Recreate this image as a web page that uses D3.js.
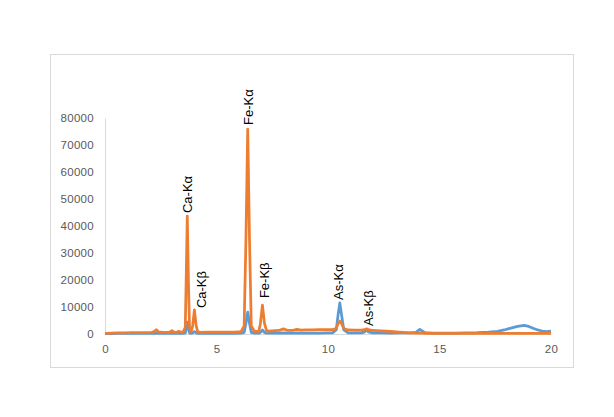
<!DOCTYPE html>
<html>
<head>
<meta charset="utf-8">
<script src="https://cdn.jsdelivr.net/npm/d3@7"></script>
<style>
  body { margin: 0; background: #fff; }
  svg { display: block; }
</style>
</head>
<body>
<div id="chart"></div>
<script>
// energy axis (keV)
var energy = [0, 0.3, 0.6, 0.9, 1.2, 1.5, 1.8, 2.1, 2.2, 2.3, 2.4, 2.6, 2.9, 3.0, 3.1, 3.2, 3.3, 3.4, 3.5, 3.6,
  3.64, 3.69, 3.74, 3.79, 3.86, 3.93, 4.01, 4.09, 4.16, 4.3, 4.6, 5.0, 5.4, 5.8, 6.1, 6.24, 6.32, 6.40, 6.48, 6.56,
  6.7, 6.9, 6.97, 7.06, 7.15, 7.25, 7.5, 7.8, 8.0, 8.2, 8.4, 8.6, 8.8, 9.0, 9.3, 9.6, 9.9, 10.2, 10.37, 10.45,
  10.53, 10.61, 10.71, 10.9, 11.2, 11.5, 11.65, 11.73, 11.81, 12.0, 12.4, 12.8, 13.2, 13.6, 13.95, 14.05, 14.12, 14.2, 14.35, 14.7,
  15.2, 15.7, 16.2, 16.7, 17.2, 17.6, 17.9, 18.2, 18.5, 18.8, 19.0, 19.2, 19.4, 19.6, 19.8, 20.0];

var orangeCounts = [200, 300, 400, 450, 500, 500, 550, 600, 900, 1600, 800, 600, 650, 1200, 650, 600, 1000, 700, 700, 2500,
  20000, 43700, 20000, 2500, 800, 3000, 8900, 3000, 800, 600, 700, 700, 650, 700, 900, 3000, 35000, 75900, 35000, 3000,
  1000, 1000, 4000, 10700, 4000, 1100, 1200, 1300, 1900, 1300, 1300, 1700, 1400, 1500, 1500, 1600, 1600, 1600, 2000, 3800,
  4800, 3800, 2000, 1500, 1400, 1400, 1600, 1900, 1600, 1300, 1200, 1000, 700, 400, 300, 300, 300, 300, 250, 250,
  250, 250, 250, 250, 250, 250, 250, 250, 250, 250, 250, 250, 250, 250, 250, 250];

var blueCounts = [100, 150, 200, 200, 200, 200, 200, 200, 250, 300, 250, 200, 200, 250, 200, 200, 250, 200, 200, 400,
  2000, 4400, 2000, 400, 200, 400, 900, 400, 200, 200, 200, 200, 200, 250, 300, 600, 4000, 8100, 4000, 600,
  300, 300, 600, 1500, 600, 300, 350, 350, 400, 350, 350, 400, 350, 350, 350, 350, 400, 400, 1500, 7000,
  11500, 7000, 1500, 450, 400, 400, 800, 1600, 800, 400, 400, 350, 400, 400, 600, 1300, 1700, 1200, 500, 350,
  300, 300, 400, 500, 700, 1000, 1500, 2200, 2800, 3200, 2800, 2100, 1500, 1100, 900, 1100];

// peak annotations: text and where its lower end sits
var labelNames = ['Ca-Kα', 'Ca-Kβ', 'Fe-Kα', 'Fe-Kβ', 'As-Kα', 'As-Kβ'];
var labelEnergy = [3.69, 4.33, 6.41, 7.13, 10.49, 11.8];
var labelCount = [44800, 9600, 77400, 13300, 12600, 3000];

var xTicks = [0, 5, 10, 15, 20];
var yTicks = [0, 10000, 20000, 30000, 40000, 50000, 60000, 70000, 80000];

var width = 614, height = 417;
var margin = { top: 118, right: 63, bottom: 83, left: 105 };

var svg = d3.select("#chart").append("svg")
  .attr("width", width)
  .attr("height", height);

// chart frame
svg.append("rect")
  .attr("x", 50.5).attr("y", 54.5)
  .attr("width", 523).attr("height", 313)
  .attr("fill", "#fff")
  .attr("stroke", "#d9d9d9");

var x = d3.scaleLinear().domain([0, 20]).range([margin.left, width - margin.right]);
var y = d3.scaleLinear().domain([0, 80000]).range([height - margin.bottom, margin.top]);

// axes
var yAxis = svg.append("g")
  .attr("transform", "translate(" + margin.left + ",0)")
  .call(d3.axisLeft(y).tickValues(yTicks).tickSize(0).tickPadding(11).tickFormat(d3.format("d")));
var xAxis = svg.append("g")
  .attr("transform", "translate(0," + y(0) + ")")
  .call(d3.axisBottom(x).tickValues(xTicks).tickSize(0).tickPadding(11));

[xAxis, yAxis].forEach(function(a) {
  a.select(".domain").attr("stroke", "#d9d9d9");
  a.selectAll("text")
    .attr("fill", "#595959")
    .style("font-family", "'Liberation Sans', Arial, sans-serif")
    .style("font-size", "11.5px")
    .style("letter-spacing", "0.3px");
});

var line = d3.line()
  .x(function(d, i) { return x(energy[i]); })
  .y(function(d) { return y(d); });

svg.append("path")
  .datum(blueCounts)
  .attr("d", line)
  .attr("fill", "none")
  .attr("stroke", "#5b9bd5")
  .attr("stroke-width", 2.75)
  .attr("stroke-linejoin", "round");

svg.append("path")
  .datum(orangeCounts)
  .attr("d", line)
  .attr("fill", "none")
  .attr("stroke", "#ed7d31")
  .attr("stroke-width", 2.75)
  .attr("stroke-linejoin", "round");

// rotated peak labels
svg.selectAll("text.peak")
  .data(labelNames)
  .enter().append("text")
  .attr("class", "peak")
  .attr("transform", function(d, i) {
    return "translate(" + x(labelEnergy[i]) + "," + y(labelCount[i]) + ") rotate(-90)";
  })
  .attr("dy", "0.35em")
  .attr("fill", "#000")
  .style("font-family", "'Liberation Sans', Arial, sans-serif")
  .style("font-size", "13px")
  .text(function(d) { return d; });
</script>
</body>
</html>
